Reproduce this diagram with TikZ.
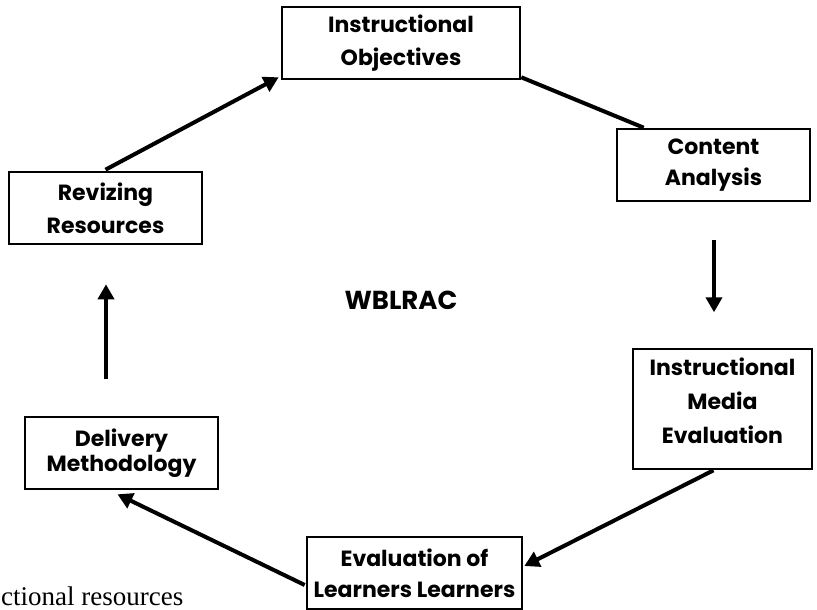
\documentclass[tikz,border=0pt]{standalone}
\usepackage{fontspec}
\setmainfont{Poppins}
\newfontfamily\serifbody{Liberation Serif}
\usetikzlibrary{arrows.meta,calc}
\begin{document}
\begin{tikzpicture}[x=1pt,y=-1pt,
  box/.style={draw=black,line width=2.6pt,inner sep=0pt},
  lbl/.style={font=\bfseries\fontsize{22}{33}\selectfont,align=center,inner sep=0pt},
  arr/.style={line width=4pt,-{Triangle[length=15pt,width=16pt]}},
  con/.style={line width=4pt}]
\useasboundingbox (0,0) rectangle (817,610);
% boxes
\node[box,minimum width=238pt,minimum height=72pt] (io) at (401,43) {};
\node[box,minimum width=193pt,minimum height=72pt] (ca) at (713.5,165) {};
\node[box,minimum width=179pt,minimum height=120pt] (ime) at (722.5,409) {};
\node[box,minimum width=215pt,minimum height=72pt] (el) at (414.5,573) {};
\node[box,minimum width=193pt,minimum height=72pt] (dm) at (121.5,453) {};
\node[box,minimum width=193pt,minimum height=72pt] (rr) at (105.5,208) {};
% texts
\node[lbl] (tio) at (io.center) {Instructional\\Objectives};
\node[lbl,font=\bfseries\fontsize{22}{31}\selectfont] (tca) at (ca.center) {Content\\Analysis};
\node[lbl,font=\bfseries\fontsize{22}{34}\selectfont] (time) at ($(ime.center)+(0,-8)$) {Instructional\\Media\\Evaluation};
\node[lbl,font=\bfseries\fontsize{22}{31}\selectfont] (tel) at (el.center) {Evaluation of\\Learners Learners};
\node[lbl,font=\bfseries\fontsize{22}{25}\selectfont] (tdm) at (dm.center) {Delivery\\Methodology};
\node[lbl] (trr) at (rr.center) {Revizing\\Resources};
\node[lbl,font=\bfseries\fontsize{26}{30}\selectfont] (wb) at (401,300) {WBLRAC};
\node[font=\serifbody\fontsize{27}{30}\selectfont,anchor=base west,inner sep=0pt] (ft) at (1,605) {ctional resources};
% connectors
\draw[con] ($(io.south east)+(0,-3)$) -- ($(ca.north west)+(28,0)$);
\draw[arr] ($(ca.south)+(0.5,38)$) -- ($(ca.south)+(0.5,110)$);
\draw[arr] ($(ime.south)+(-9,0)$) -- ($(el.east)+(1,-7)$);
\draw[arr] ($(el.west)+(-1,12)$) -- ($(dm.south)+(-4,4)$);
\draw[arr] ($(rr.south)+(0.5,134)$) -- ($(rr.south)+(0.5,39)$);
\draw[arr] ($(rr.north)+(0,-1)$) -- ($(io.south west)+(-2,-3)$);
\end{tikzpicture}
\end{document}
